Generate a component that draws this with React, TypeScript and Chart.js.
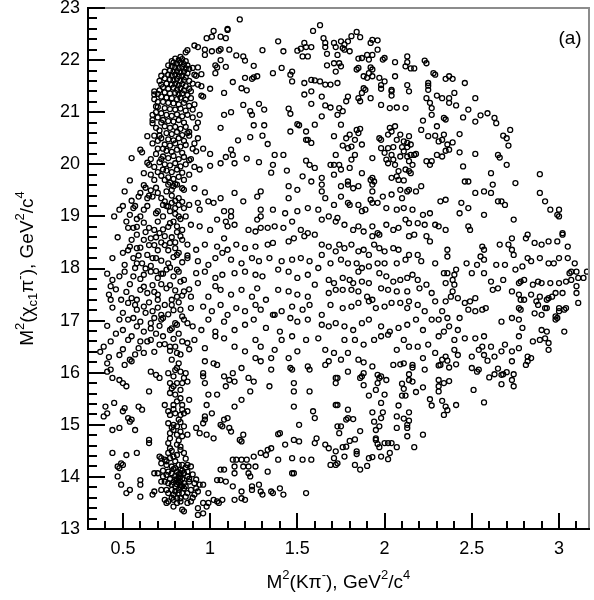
import React, { useRef, useEffect } from 'react';
import Chart from 'chart.js/auto';

type Pt = [number, number];

// M^2(K pi-) on x, M^2(chi_c1 pi-) on y, both GeV^2/c^4
const bandUpper: Pt[] = [
  [0.8,22.03],[0.82,22.0],[0.84,22.02],[0.86,21.98],[0.79,21.95],[0.81,21.93],[0.83,21.95],[0.85,21.92],[0.87,21.9],[0.78,21.88],
  [0.8,21.86],[0.82,21.85],[0.84,21.87],[0.86,21.84],[0.88,21.83],[0.77,21.8],[0.79,21.78],[0.81,21.79],[0.83,21.76],[0.85,21.78],
  [0.87,21.75],[0.76,21.72],[0.78,21.7],[0.8,21.72],[0.82,21.69],[0.84,21.7],[0.86,21.67],[0.74,21.65],[0.77,21.63],[0.79,21.61],
  [0.81,21.64],[0.83,21.6],[0.85,21.62],[0.88,21.6],[0.75,21.55],[0.78,21.53],[0.8,21.55],[0.82,21.52],[0.84,21.54],[0.86,21.5],
  [0.9,21.55],[0.73,21.48],[0.76,21.45],[0.79,21.47],[0.81,21.43],[0.83,21.46],[0.85,21.42],[0.88,21.45],[0.74,21.38],[0.77,21.36],
  [0.8,21.37],[0.82,21.34],[0.84,21.36],[0.87,21.33],[0.72,21.3],[0.75,21.28],[0.78,21.27],[0.81,21.25],[0.83,21.28],[0.86,21.24],
  [0.89,21.27],[0.73,21.2],[0.76,21.18],[0.79,21.17],[0.82,21.15],[0.85,21.18],[0.88,21.12],[0.74,21.08],[0.77,21.06],[0.8,21.05],
  [0.83,21.07],[0.86,21.03],[0.9,21.05],[0.72,20.98],[0.75,20.95],[0.78,20.93],[0.81,20.96],[0.84,20.92],[0.87,20.95],[0.73,20.85],
  [0.76,20.83],[0.79,20.82],[0.82,20.85],[0.85,20.8],[0.74,20.73],[0.77,20.7],[0.8,20.72],[0.83,20.68],[0.86,20.72],[0.75,20.6],
  [0.78,20.58],[0.81,20.62],[0.84,20.56],[0.87,20.6],[0.72,20.5],[0.76,20.48],[0.79,20.46],[0.82,20.5],[0.85,20.45],[0.74,20.38],
  [0.77,20.36],[0.8,20.4],[0.83,20.34],[0.86,20.37],[0.7,20.3],[0.75,20.26],[0.78,20.24],[0.81,20.28],[0.84,20.22],[0.73,20.15],
  [0.76,20.12],[0.79,20.16],[0.82,20.1],[0.85,20.14],[0.88,20.08],[0.71,20.04],[0.74,20.0],[0.77,19.98],[0.8,20.02],[0.83,19.96],
  [0.86,20.0],[0.75,19.88],[0.78,19.85],[0.81,19.9],[0.84,19.84],[0.72,19.78],[0.76,19.75],[0.79,19.72],[0.82,19.76],[0.85,19.7],
  [0.77,19.65],[0.8,19.62],
  [0.68,21.25],[0.7,21.2],[0.69,21.0],[0.7,20.9],[0.67,20.85],[0.69,20.7],[0.71,20.65],[0.68,20.55],[0.7,20.45],[0.67,20.4],
  [0.69,20.2],[0.66,20.1],[0.68,19.95],[0.7,19.85],[0.66,19.8],[0.68,19.7],
  [0.9,21.85],[0.92,21.7],[0.89,21.4],[0.91,21.15],[0.9,20.9],[0.92,20.7],[0.88,20.55],[0.9,20.3],[0.89,20.1],[0.91,19.95],
  [0.88,19.8],[0.95,21.5],[0.94,20.95],[0.96,20.3],[0.94,19.9],
  [0.83,22.06],[0.78,21.98],[0.76,21.9],[0.74,21.78],[0.72,21.7],[0.71,21.42],[0.7,21.35],[0.7,21.1],[0.72,20.8],[0.71,20.55],
  [0.73,20.3],[0.72,20.1],[0.73,19.9],[0.74,19.7],
];

const upperLeft: Pt[] = [
  [1.17,22.78],[1.1,22.6],[1.1,22.58],[1.02,22.56],[1.01,22.45],[0.98,22.42],[1.06,22.45],[1.09,22.42],[0.91,22.28],[0.93,22.25],
  [0.86,22.15],[0.87,22.19],[0.97,22.2],[0.97,22.1],[1.01,22.17],[1.05,22.18],[1.06,22.21],[1.11,22.2],[1.06,22.0],[1.03,21.9],
  [1.04,21.86],[1.03,21.75],[1.09,21.87],[1.13,21.58],[1.08,21.37],[1.08,20.95],[1.12,21.0],[1.06,20.7],[1.0,21.45],[0.95,21.32],
  [0.96,21.3],[0.93,21.53],[0.91,21.72],[0.95,21.73],[0.93,21.86],[0.93,20.8],[0.88,20.62],[0.93,20.5],[0.91,20.4],[0.92,20.25],
  [1.0,20.2],[1.0,19.97],[1.06,20.02],[1.09,20.14],[1.12,20.28],[1.13,20.18],[1.14,20.02],[0.55,20.12],[0.6,20.28],[0.61,20.23],
  [0.64,20.54],[0.54,19.69],[0.62,19.83],[0.64,20.03],[0.65,19.99],[0.68,21.4],[0.68,21.34],[0.71,21.6],[0.72,21.53],[0.69,21.11],
  [0.67,20.95],[0.67,20.79],
  [1.15,22.09],[1.19,22.07],[1.2,21.99],[1.25,21.89],[1.3,22.19],[1.39,22.36],[1.42,22.17],[1.41,21.85],[1.36,21.75],[1.47,21.78],
  [1.46,21.72],[1.47,21.59],[1.2,21.66],[1.24,21.64],[1.25,21.67],[1.27,21.69],[1.18,21.46],[1.21,21.42],[1.19,21.14],[1.23,21.02],
  [1.24,20.95],[1.28,21.16],[1.31,21.05],[1.25,20.75],[1.31,20.75],[1.23,20.52],[1.3,20.55],[1.33,20.39],[1.16,20.46],[1.21,20.11],
  [1.28,20.04],[1.37,20.18],[1.42,20.18],[1.36,19.99],[1.35,19.84],[1.44,19.88],[1.45,21.07],[1.46,20.97],[1.5,20.77],[1.51,20.75],
  [1.46,20.63],[1.55,20.63],[1.56,20.47],[1.58,20.41],[1.6,20.76],[1.5,22.18],[1.52,22.22],[1.54,22.33],[1.55,22.25],[1.56,22.07],
  [1.53,22.07],[1.58,22.25],[1.59,22.56],[1.63,22.67],[1.65,22.42],[1.66,22.33],[1.66,22.25],[1.67,22.12],[1.71,22.33],[1.72,22.25],
  [1.73,22.1],[1.71,21.94],[1.72,21.78],[1.67,21.9],[1.54,21.56],[1.58,21.4],[1.54,21.34],[1.6,21.61],[1.58,21.62],[1.63,21.59],
  [1.66,21.53],[1.69,21.53],[1.64,21.3],[1.58,21.16],[1.66,21.13],[1.69,21.09],[1.64,20.92],[1.71,20.54],[1.55,20.47],[1.55,20.07],
  [1.57,19.99],[1.6,19.93],[1.53,19.77],[1.58,19.67],[1.64,19.74],[1.69,19.99],[1.71,19.99],[1.71,19.8],[1.72,20.18],
];

const upperRight: Pt[] = [
  [1.84,22.54],[1.86,22.44],[1.81,22.46],[1.79,22.36],[1.77,22.3],[1.76,22.23],[1.75,22.36],[1.93,22.39],[1.92,22.33],[1.96,22.38],
  [1.96,22.2],[1.93,22.1],[1.9,22.1],[1.91,22.01],[1.87,22.04],[1.85,22.03],[1.8,22.17],[1.77,22.2],[2.0,22.04],[1.99,22.01],
  [2.06,21.96],[2.13,22.07],[2.13,21.96],[2.12,21.88],[2.15,21.84],[2.17,21.84],[2.23,21.99],[2.24,21.94],[1.74,21.94],[1.75,21.88],
  [1.73,21.56],[1.84,21.82],[1.85,21.85],[1.92,21.86],[1.93,21.82],[1.91,21.75],[1.93,21.69],[1.9,21.66],[1.88,21.69],[1.97,21.66],
  [2.0,21.59],[1.98,21.52],[1.98,21.45],[2.06,21.69],[1.88,21.46],[1.89,21.43],[1.87,21.37],[1.85,21.27],[1.86,21.21],[1.79,21.3],
  [1.78,21.21],[1.92,21.27],[1.98,21.14],[2.03,21.08],[2.07,21.09],[2.12,21.08],[2.04,21.32],[2.04,21.4],[2.04,21.43],[2.13,21.52],
  [2.14,21.4],[1.74,21.08],[1.76,21.02],[1.73,20.95],[1.75,20.76],[1.78,20.5],[1.8,20.57],[1.83,20.47],[1.84,20.66],[1.85,20.6],
  [1.86,20.68],[1.76,20.36],[1.79,20.31],[1.81,20.34],[1.87,20.38],[1.83,20.18],[1.81,20.09],[1.74,19.99],[1.75,19.9],[1.8,19.93],
  [1.87,19.83],[1.79,19.67],[1.92,19.7],[1.93,19.74],[1.94,19.67],
  [2.25,21.56],[2.25,21.51],[2.25,21.43],[2.24,21.27],[2.26,21.18],[2.27,21.08],[2.27,20.95],[2.3,21.32],[2.33,21.27],[2.37,21.27],
  [2.37,21.18],[2.41,21.13],[2.4,21.37],[2.29,21.72],[2.28,21.75],[2.35,21.64],[2.37,21.69],[2.39,21.64],[2.46,21.56],[2.52,21.27],
  [2.48,21.05],[2.45,20.9],[2.52,20.82],[2.55,20.94],[2.59,20.98],[2.63,20.89],[2.64,20.79],[2.68,20.55],[2.72,20.66],[2.7,20.5],
  [2.71,20.36],[2.65,20.18],[2.66,20.13],[2.7,19.99],[2.61,19.83],[2.89,19.81],
  [2.22,20.84],[2.21,20.66],[2.25,20.54],[2.3,20.73],[2.29,20.55],[2.34,20.89],[2.35,20.86],[2.34,20.57],[2.33,20.47],[2.31,20.44],
  [2.36,20.38],[2.35,20.26],[2.37,20.28],[2.39,20.42],[2.43,20.58],[2.3,20.18],[2.33,20.15],[2.27,20.06],[2.24,20.06],[2.26,19.99],
  [2.43,20.23],[2.52,20.2],[2.45,19.96],[2.48,19.67],[2.46,19.67],
  [2.03,20.7],[2.06,20.73],[2.04,20.63],[2.02,20.57],[2.09,20.57],[2.14,20.54],[2.07,20.47],[2.11,20.44],[2.13,20.41],[2.15,20.38],
  [2.13,20.33],[2.1,20.33],[2.05,20.33],[2.02,20.31],[2.0,20.22],[2.04,20.18],[2.05,20.09],[2.01,20.09],[2.02,20.02],[2.06,19.99],
  [2.09,20.15],[2.11,20.25],[2.13,20.15],[2.15,20.18],[2.17,20.18],[2.18,20.2],[2.14,20.06],[2.16,19.99],[2.12,19.9],[2.14,19.87],
  [2.15,19.83],[2.08,19.87],[2.07,19.77],[2.04,19.74],[2.08,19.7],[2.11,19.69],[1.98,20.47],[1.97,20.5],[1.98,20.31],[1.93,20.12],
];

const middleLeft: Pt[] = [
  [0.76,19.61],[0.79,19.58],[0.81,19.61],[0.84,19.54],[0.85,19.51],[0.78,19.51],[0.75,19.48],[0.91,19.54],[0.97,19.46],[1.06,19.35],
  [1.14,19.45],[1.19,19.29],[1.27,19.38],[1.29,19.48],[1.45,19.58],[1.5,19.51],[1.64,19.61],[1.64,19.48],[1.66,19.35],[1.45,19.35],
  [0.59,19.38],[0.64,19.35],[0.67,19.38],[0.51,19.48],[0.74,19.29],[0.78,19.26],[0.82,19.22],
  [0.48,19.13],[0.54,19.03],[0.56,19.16],[0.6,19.0],[0.62,19.13],[0.69,19.06],[0.73,19.22],[0.76,19.19],[0.8,19.16],[0.82,19.0],
  [0.85,19.16],[0.88,19.22],[0.93,19.26],[0.94,19.13],[0.99,19.29],[1.02,19.26],[1.08,19.1],[1.12,19.1],[1.12,19.0],[1.29,19.13],
  [1.29,19.0],[1.36,19.13],[1.43,19.06],[1.5,19.1],[1.56,19.16],[1.62,19.13],[1.68,19.0],[1.71,19.22],
  [0.53,18.78],[0.56,18.78],[0.65,18.78],[0.68,18.74],[0.77,18.87],[0.81,18.81],[0.84,18.74],[0.89,18.84],[0.94,18.81],[1.0,18.74],
  [1.04,18.94],[1.09,18.9],[1.1,18.81],[1.14,18.84],[1.27,18.94],[1.29,18.78],[1.33,18.78],[1.37,18.81],[1.42,18.78],[1.47,18.9],
  [1.52,18.74],[1.56,18.68],[1.64,18.94],[1.72,18.9],[0.74,18.62],[1.22,18.74],[1.26,18.71],
  [0.54,18.42],[0.58,18.65],[0.62,18.55],[0.66,18.58],[0.71,18.68],[0.77,18.49],[0.8,18.39],[0.83,18.62],[0.87,18.46],[0.92,18.36],
  [0.97,18.46],[1.04,18.42],[1.08,18.58],[1.1,18.36],[1.15,18.46],[1.2,18.39],[1.26,18.42],[1.33,18.46],[1.36,18.49],[1.45,18.52],
  [1.48,18.58],[1.54,18.62],[1.6,18.65],[1.64,18.46],[1.68,18.42],[0.5,18.3],[0.58,18.39],
  [0.51,18.07],[0.56,18.2],[0.61,18.1],[0.64,18.26],[0.69,18.2],[0.76,18.1],[0.81,18.26],[0.87,18.2],[0.93,18.14],[0.99,18.07],
  [1.03,18.2],[1.07,18.3],[1.12,18.17],[1.18,18.1],[1.24,18.2],[1.28,18.14],[1.34,18.2],[1.41,18.14],[1.47,18.17],[1.52,18.2],
  [1.57,18.14],[1.64,18.26],[1.69,18.1],[1.72,18.33],
  [0.44,17.78],[0.51,17.94],[0.57,18.01],[0.62,17.88],[0.66,17.94],[0.7,17.82],[0.75,17.98],[0.82,17.94],[0.85,17.78],[0.92,17.91],
  [0.97,17.94],[1.03,17.82],[1.07,17.88],[1.14,17.91],[1.2,17.94],[1.26,17.88],[1.3,17.85],[1.39,17.98],[1.45,17.94],[1.5,17.82],
  [1.56,17.88],[1.62,18.01],[1.68,17.78],[1.71,17.72],
  [0.43,17.66],[0.43,17.4],[0.49,17.4],[0.55,17.43],[0.6,17.59],[0.64,17.53],[0.7,17.5],[0.75,17.62],[0.81,17.46],[0.85,17.56],
  [0.89,17.46],[0.93,17.72],[0.99,17.46],[1.03,17.66],[1.06,17.59],[1.12,17.5],[1.18,17.59],[1.24,17.46],[1.27,17.62],[1.32,17.4],
  [1.39,17.59],[1.45,17.56],[1.5,17.5],[1.56,17.46],[1.6,17.69],[1.68,17.53],[1.72,17.59],
  [0.48,17.02],[0.53,17.34],[0.58,17.21],[0.62,17.27],[0.67,17.18],[0.72,17.11],[0.78,17.3],[0.83,17.21],[0.89,17.24],[0.96,17.27],
  [1.01,17.18],[1.06,17.3],[1.1,17.11],[1.15,17.24],[1.2,17.18],[1.26,17.3],[1.29,17.21],[1.36,17.11],[1.41,17.18],[1.47,17.27],
  [1.53,17.21],[1.57,17.3],[1.64,17.11],[1.69,17.3],
  [0.5,16.82],[0.53,17.02],[0.58,16.89],[0.62,16.79],[0.66,16.95],[0.72,17.02],[0.77,16.82],[0.81,16.92],[0.85,17.02],[0.9,16.89],
  [0.95,16.82],[0.99,17.02],[1.03,16.79],[1.08,16.98],[1.14,16.82],[1.2,16.92],[1.25,17.02],[1.32,16.86],[1.37,17.11],[1.4,16.79],
  [1.46,17.05],[1.5,16.98],[1.56,17.02],[1.64,16.92],[1.68,16.89],[1.72,16.95],
  [0.39,16.5],[0.43,16.6],[0.48,16.34],[0.53,16.63],[0.59,16.47],[0.62,16.38],[0.66,16.63],[0.71,16.54],[0.77,16.5],[0.81,16.38],
  [0.87,16.57],[0.91,16.63],[0.97,16.47],[1.03,16.7],[1.08,16.66],[1.14,16.5],[1.2,16.41],[1.26,16.63],[1.29,16.5],[1.37,16.44],
  [1.41,16.63],[1.47,16.7],[1.5,16.41],[1.55,16.63],[1.62,16.66],[1.66,16.44],[1.71,16.38],
  [0.78,19.4],[0.82,19.35],[0.8,19.3],[0.84,19.28],[0.77,19.1],[0.8,19.05],[0.83,18.95],[0.79,18.9],[0.76,18.8],[0.81,18.7],
  [0.78,18.6],[0.84,18.55],[0.8,18.5],[0.76,18.35],[0.82,18.3],[0.79,18.22],[0.84,18.12],[0.77,18.02],[0.81,17.98],[0.79,17.85],
  [0.83,17.75],[0.77,17.68],[0.8,17.58],[0.84,17.48],[0.78,17.4],[0.82,17.35],[0.79,17.2],[0.76,17.12],[0.84,17.08],[0.8,16.95],
  [0.78,16.85],[0.82,16.75],[0.79,16.65],[0.84,16.6],[0.8,16.5],[0.77,16.42],[0.83,16.35],[0.75,19.2],[0.86,19.0],[0.74,18.45],
  [0.87,18.25],[0.73,17.9],[0.88,17.6],[0.74,17.3],[0.87,16.95],[0.73,16.7],[0.88,16.45],
  [0.45,19.0],[0.5,19.2],[0.55,19.3],[0.6,19.45],[0.63,19.55],[0.66,19.5],[0.7,19.45],[0.52,18.9],[0.58,18.95],[0.62,18.88],
  [0.7,18.9],[0.47,18.6],[0.55,18.55],[0.6,18.4],[0.68,18.45],[0.72,18.5],[0.44,18.2],[0.53,18.35],[0.58,18.1],[0.66,18.05],
  [0.7,18.35],[0.41,17.9],[0.48,17.85],[0.54,17.7],[0.6,17.8],[0.67,17.68],[0.72,17.9],[0.42,17.5],[0.46,17.6],[0.52,17.55],
  [0.58,17.4],[0.65,17.35],[0.7,17.25],[0.44,17.25],[0.5,17.15],[0.56,17.05],[0.6,16.98],[0.68,17.05],[0.41,16.9],[0.46,16.75],
  [0.55,16.7],[0.64,16.6],[0.69,16.75],[0.37,16.4],[0.42,16.3],[0.5,16.45],[0.57,16.35],[0.68,16.4],
  [0.62,19.6],[0.65,19.4],[0.69,19.55],[0.72,19.35],[0.57,19.2],[0.64,19.2],[0.7,19.1],[0.73,19.0],[0.58,18.8],[0.63,18.7],
  [0.69,18.6],[0.73,18.75],[0.65,18.45],[0.59,18.25],[0.67,18.2],[0.72,18.15],[0.63,18.0],[0.69,17.95],[0.56,17.85],[0.62,17.65],
  [0.68,17.55],[0.72,17.7],[0.57,17.3],[0.63,17.15],[0.7,17.4],[0.73,17.05],[0.66,16.85],[0.71,16.9],[0.6,16.6],[0.74,16.55],
];

const middleRight: Pt[] = [
  [1.75,19.58],[1.79,19.61],[1.82,19.54],[1.85,19.58],[1.93,19.61],[1.93,19.48],[1.99,19.38],[2.04,19.42],[2.09,19.51],[2.1,19.35],
  [2.13,19.48],[2.14,19.51],[2.18,19.48],[2.21,19.58],[1.75,19.38],[1.79,19.26],[1.8,19.22],[1.85,19.22],[1.87,19.1],[1.89,19.13],
  [1.92,19.32],[1.93,19.26],[1.96,19.26],[2.01,19.16],[2.07,19.13],[2.11,19.16],[2.16,19.13],[2.22,19.03],[2.26,19.06],[2.32,19.29],
  [2.35,19.32],[1.73,18.97],[1.77,18.84],[1.82,18.74],[1.85,18.81],[1.88,18.71],[1.93,18.81],[1.93,18.62],[1.96,18.68],[1.97,18.65],
  [2.01,18.84],[2.05,18.74],[2.08,18.78],[2.12,18.94],[2.14,18.87],[2.19,18.87],[2.23,18.84],[2.29,18.84],[2.31,18.81],[2.35,18.74],
  [1.74,18.46],[1.77,18.39],[1.81,18.46],[1.85,18.33],[1.88,18.36],[1.91,18.26],[1.94,18.46],[1.97,18.39],[2.0,18.33],[2.05,18.39],
  [2.08,18.36],[2.14,18.62],[2.17,18.65],[2.24,18.62],[2.26,18.52],[1.75,18.17],[1.79,18.1],[1.84,18.1],[1.87,18.01],[1.85,17.94],
  [1.91,18.04],[1.96,18.1],[2.0,18.1],[2.07,18.1],[2.12,18.17],[2.14,18.26],[2.19,18.26],[2.21,18.14],[2.29,18.1],[1.76,17.82],
  [1.8,17.78],[1.82,17.72],[1.87,17.75],[1.91,17.72],[1.97,17.91],[2.01,17.85],[2.05,17.75],[2.09,17.78],[2.13,17.82],[2.16,17.88],
  [2.19,17.78],[1.76,17.59],[1.81,17.59],[1.85,17.56],[1.9,17.46],[1.93,17.4],[1.98,17.62],[2.02,17.59],[2.07,17.56],[2.13,17.56],
  [2.14,17.37],[2.2,17.62],[2.24,17.69],[2.27,17.53],[1.76,17.24],[1.81,17.27],[1.85,17.34],[1.91,17.37],[1.95,17.24],[2.0,17.27],
  [2.04,17.34],[2.09,17.34],[2.13,17.24],[2.19,17.3],[2.23,17.18],[1.77,16.89],[1.82,16.82],[1.87,16.95],[1.91,17.02],[1.98,16.89],
  [2.03,16.79],[2.08,16.86],[2.13,16.92],[2.18,17.02],[2.22,16.82],[2.27,17.02],[1.77,16.63],[1.83,16.63],[1.88,16.54],[1.94,16.63],
  [1.98,16.7],[2.02,16.73],[2.07,16.44],[2.11,16.63],[2.14,16.5],[2.19,16.5],[2.25,16.54],[2.29,16.38],[2.35,16.31],[2.4,16.44],
  [1.79,16.38],
  [2.36,18.36],[2.36,18.23],[2.47,18.1],[2.5,17.91],[2.34,17.91],[2.36,17.91],[2.41,17.98],[2.4,17.88],[2.39,17.78],[2.35,17.72],
  [2.4,17.69],[2.39,17.56],[2.42,17.43],[2.38,17.46],[2.35,17.37],[2.33,17.18],[2.36,17.05],[2.31,17.02],[2.29,17.37],[2.46,17.34],
  [2.49,17.37],[2.48,17.21],[2.52,17.18],[2.56,17.21],[2.58,17.24],[2.52,17.43],[2.43,17.05],[2.42,16.82],[2.37,16.89],[2.34,16.79],
  [2.31,16.7],[2.4,16.63],[2.46,16.66],[2.52,16.66],[2.57,16.7],[2.61,16.5],[2.56,16.5],[2.54,16.44],[2.5,16.31],[2.42,16.34],
  [2.57,16.34],[2.63,16.31],[2.67,16.41],[2.69,16.54],[2.73,16.41],[2.77,16.47],[2.82,16.31],[2.67,16.98],[2.73,17.05],[2.77,17.02],
  [2.79,16.86],[2.77,16.7],[2.85,16.6],[2.89,16.63],[2.92,16.66],[2.9,16.82],[2.93,16.79],[2.94,16.57],[2.94,16.44],[3.03,16.79],
  [2.98,17.02],[3.0,17.18],[3.04,17.24],[2.99,17.05],
  [2.43,19.06],[2.44,19.26],[2.48,19.16],[2.52,19.45],[2.57,19.48],[2.61,19.45],[2.62,19.61],[2.67,19.29],[2.69,19.22],[2.65,19.29],
  [2.75,19.64],[2.57,19.03],[2.74,18.94],[2.48,18.81],[2.49,18.74],[2.89,19.45],[2.92,19.29],[2.95,19.13],[2.99,19.03],[3.0,19.13],
  [3.0,19.0],[3.02,18.68],[3.02,18.65],[2.73,18.58],[2.71,18.46],[2.66,18.46],[2.73,18.36],[2.74,18.26],[2.81,18.58],[2.82,18.65],
  [2.86,18.49],[2.9,18.46],[2.94,18.52],[2.99,18.52],[3.05,18.42],[2.56,18.42],[2.57,18.36],[2.55,18.23],[2.57,18.17],[2.53,18.07],
  [2.64,18.07],[2.69,18.07],[2.57,17.91],[2.61,17.75],[2.62,17.59],[2.65,17.62],[2.68,17.78],[2.75,17.98],[2.79,18.04],[2.84,18.14],
  [2.89,18.2],[2.82,18.2],[2.94,18.1],[2.97,18.1],[3.0,18.2],[3.05,18.2],[3.09,18.1],[3.07,17.94],[3.1,17.94],[3.16,17.94],
  [3.06,17.91],[3.07,17.78],[3.11,17.82],[3.14,17.82],[2.77,17.72],[2.78,17.75],[2.8,17.78],[2.85,17.69],[2.88,17.75],[2.9,17.72],
  [2.95,17.72],[3.0,17.72],[3.04,17.75],[2.73,17.56],[2.77,17.5],[2.78,17.4],[2.8,17.4],[2.84,17.5],[2.89,17.46],[2.93,17.4],
  [2.96,17.46],[2.98,17.53],[3.02,17.53],[3.1,17.66],[3.1,17.53],[3.11,17.34],[2.87,17.37],[2.88,17.3],[2.94,17.43],[2.77,17.24],
  [2.78,17.21],[2.86,17.14],[2.92,17.24],[2.93,17.24],[3.0,17.24],[3.03,17.21],[2.98,17.08],[2.9,17.11],
];

const lowerLeft: Pt[] = [
  [0.41,16.18],[0.43,16.06],[0.41,16.02],[0.44,15.9],[0.48,15.86],[0.5,15.8],[0.52,15.74],[0.51,16.15],[0.55,16.22],[0.54,16.25],
  [0.66,16.02],[0.69,15.96],[0.71,15.9],[0.65,15.64],[0.39,15.16],[0.4,15.35],[0.41,15.22],[0.45,15.42],[0.44,14.9],[0.48,14.94],
  [0.51,15.32],[0.5,15.26],[0.53,15.13],[0.54,15.06],[0.55,15.1],[0.59,15.35],[0.61,15.29],[0.57,14.9],[0.44,14.46],[0.52,14.42],
  [0.58,14.46],[0.48,14.17],[0.47,14.2],[0.5,14.23],[0.49,14.26],[0.47,14.01],[0.49,13.85],[0.52,13.69],[0.54,13.75],[0.6,13.94],
  [0.6,13.85],[0.6,13.62],[0.65,14.71],[0.65,14.65],[0.68,14.07],[0.7,14.07],[0.67,13.66],[0.68,13.72],
  [0.97,16.22],[1.02,16.18],[0.96,15.99],[0.96,15.93],[0.97,15.8],[1.04,16.15],[1.08,15.93],[1.11,15.86],[1.14,15.83],[1.13,15.99],
  [1.18,16.09],[1.22,15.9],[1.25,15.83],[1.09,15.74],[1.04,15.58],[0.99,15.58],[0.98,15.38],[1.01,15.22],[0.97,15.16],[0.97,15.1],
  [0.96,15.03],[0.92,14.94],[0.94,14.84],[0.98,14.81],[1.02,14.74],[1.06,15.0],[1.07,14.97],[1.08,15.1],[1.1,15.13],[1.11,14.94],
  [1.12,14.87],[1.14,15.35],[1.18,15.48],[1.17,14.71],[1.18,14.68],[1.19,14.81],[1.23,15.64],[1.26,16.28],[1.29,16.22],[1.35,16.28],
  [1.35,16.06],[1.34,15.74],[1.45,16.28],[1.46,16.09],[1.47,16.06],[1.48,15.8],[1.48,15.64],[1.48,15.35],[1.56,16.12],[1.57,16.06],
  [1.57,15.64],[1.59,15.26],[1.6,15.13],[1.66,16.15],[1.68,16.22],[1.72,15.9],[1.72,15.8],[1.51,15.0],[1.48,14.71],[1.51,14.68],
  [1.61,14.74],[1.6,14.65],[1.66,14.62],[1.68,14.55],[1.72,14.49],[1.73,14.97],[1.72,15.38],[1.71,14.36],[1.72,14.23],[1.69,14.23],
  [1.47,14.36],[1.53,14.33],[1.58,14.33],[1.48,14.07],[1.47,14.07],[1.39,14.82],[1.4,14.84],[1.43,14.62],[1.35,14.55],[1.33,14.52],
  [1.29,14.46],[1.32,14.42],[1.39,14.33],[1.25,14.39],[1.21,14.33],[1.15,14.33],[1.18,14.33],[1.13,14.33],[1.14,14.2],[1.19,14.2],
  [1.22,14.2],[1.26,14.2],[1.22,14.07],[1.23,14.01],[1.14,14.07],[1.08,14.14],[1.06,14.14],[1.04,13.94],[1.06,13.94],[1.09,13.91],
  [1.13,13.82],[1.18,13.72],[1.2,13.56],[1.24,13.82],[1.24,13.75],[1.28,13.85],[1.29,13.72],[1.3,13.66],[1.35,13.72],[1.36,13.69],
  [1.4,13.78],[1.42,13.66],[1.33,14.1],[1.14,13.56],[1.18,13.59],[1.07,13.56],[1.04,13.53],[1.02,13.56],[1.05,13.5],[0.99,13.5],
  [0.99,13.69],[0.96,13.5],[0.98,13.43],[0.93,13.4],[0.93,13.27],[0.96,13.3],[1.55,13.69],[0.96,13.85],
];

const bandLower: Pt[] = [
  [0.78,16.25],[0.81,16.09],[0.82,16.18],[0.76,15.99],[0.79,15.93],[0.83,16.02],[0.86,15.99],[0.87,15.83],[0.81,15.8],[0.84,15.8],
  [0.77,15.8],[0.79,15.74],[0.83,15.67],[0.77,15.61],[0.8,15.58],[0.83,15.51],[0.88,15.48],[0.84,15.38],[0.79,15.38],[0.74,15.38],
  [0.76,15.26],[0.8,15.22],[0.77,15.19],[0.82,15.1],[0.84,15.29],[0.85,15.22],[0.83,15.19],[0.87,15.26],[0.76,15.03],[0.79,15.0],
  [0.81,14.97],[0.79,14.9],[0.83,14.87],[0.77,14.84],[0.81,14.81],[0.85,14.97],[0.87,14.81],[0.84,14.78],[0.77,14.74],[0.76,14.65],
  [0.81,14.62],[0.83,14.58],[0.77,14.55],[0.76,14.46],[0.83,14.52],[0.85,14.46],[0.71,14.39],[0.72,14.36],[0.74,14.33],[0.77,14.36],
  [0.79,14.39],[0.81,14.42],[0.82,14.23],[0.84,14.23],[0.87,14.23],[0.89,14.2],[0.72,14.26],[0.75,14.23],[0.78,14.2],[0.8,14.17],
  [0.83,14.14],[0.81,14.1],[0.83,14.07],[0.85,14.07],[0.87,14.1],[0.78,14.07],[0.75,14.04],[0.73,14.01],[0.83,14.01],[0.82,13.98],
  [0.81,13.94],[0.83,13.91],[0.87,14.01],[0.88,13.91],[0.91,13.88],[0.74,13.91],[0.72,13.91],[0.76,13.88],[0.78,13.85],[0.8,13.82],
  [0.83,13.85],[0.84,13.82],[0.86,13.82],[0.85,13.78],[0.82,13.75],[0.78,13.75],[0.75,13.75],[0.72,13.75],[0.76,13.69],[0.79,13.66],
  [0.82,13.69],[0.84,13.69],[0.87,13.69],[0.89,13.75],[0.92,13.78],[0.93,13.72],[0.94,13.85],[0.91,13.66],[0.74,13.56],[0.76,13.53],
  [0.79,13.56],[0.81,13.5],[0.83,13.53],[0.87,13.5],[0.89,13.53],[0.84,13.37],[0.85,13.34],[0.79,13.43],[0.75,13.5],[0.83,13.59],
  [0.81,13.59],
  [0.8,13.95],[0.82,13.9],[0.84,13.96],[0.81,13.86],[0.83,13.8],[0.79,13.9],[0.85,13.88],[0.8,14.02],[0.82,14.05],[0.84,14.12],
  [0.79,14.15],[0.86,14.18],[0.77,13.96],[0.88,13.96],[0.76,14.1],[0.8,13.72],[0.86,13.62],[0.78,13.6],[0.9,13.6],[0.92,13.95],
  [0.9,14.05],[0.73,14.12],[0.75,14.3],[0.8,14.3],[0.86,14.35],[0.78,14.5],[0.82,14.7],[0.78,14.95],[0.83,15.05],[0.79,15.3],
  [0.81,15.45],[0.78,15.7],[0.85,15.9],[0.8,16.05],
];

const lowerRight: Pt[] = [
  [1.75,16.25],[1.85,16.25],[1.88,16.2],[1.93,16.12],[2.05,16.15],[2.09,16.16],[2.11,16.18],[2.16,16.15],[2.16,16.1],[2.22,16.28],
  [2.31,16.14],[2.33,16.25],[2.36,16.23],[2.37,16.1],[2.32,16.15],[2.41,16.16],[2.5,16.09],[2.53,16.02],[2.54,16.06],[2.59,16.23],
  [2.6,15.91],[2.63,15.97],[2.65,16.08],[2.67,15.96],[2.68,15.97],[2.7,16.01],[2.73,16.22],[2.73,15.86],[2.74,15.97],[2.74,15.74],
  [2.67,15.78],[2.51,15.67],[2.57,15.43],[2.81,16.15],[2.82,16.22],[2.84,16.28],[1.79,16.02],[1.88,15.99],[1.87,15.93],[1.86,15.9],
  [1.88,15.76],[1.95,15.67],[1.96,15.96],[1.97,15.9],[1.98,15.93],[2.01,15.86],[1.96,15.8],[2.0,15.58],[1.91,15.56],[2.1,15.79],
  [2.11,15.69],[2.1,15.56],[2.12,15.56],[2.14,15.97],[2.14,15.86],[2.16,15.83],[2.18,15.63],[2.22,15.72],[2.23,16.06],[2.31,15.86],
  [2.31,15.74],[2.31,15.64],[2.34,15.8],[2.37,15.84],[2.26,15.49],[2.27,15.37],[2.33,15.46],[2.35,15.35],[2.36,15.28],[2.34,15.19],
  [2.41,15.38],[1.73,15.9],[1.73,15.38],[1.79,15.29],[1.78,15.1],[1.82,15.11],[1.79,15.13],[1.75,14.97],[1.93,15.24],[1.98,15.42],
  [1.99,15.24],[1.98,15.13],[1.94,15.06],[1.97,14.97],[1.95,14.9],[2.08,15.37],[2.14,15.24],[2.07,15.16],[2.11,15.12],[2.14,15.08],
  [2.13,15.0],[2.13,14.94],[2.07,14.94],[2.13,14.78],[2.22,14.81],[2.17,14.57],[1.74,14.84],[1.8,14.69],[1.83,14.72],[1.76,14.57],
  [1.78,14.58],[1.77,14.39],[1.84,14.49],[1.84,14.44],[1.91,14.36],[1.93,14.38],[1.98,14.39],[2.03,14.46],[2.02,14.34],[1.86,14.88],
  [1.95,14.74],[1.95,14.71],[1.96,14.63],[1.97,14.57],[2.0,14.65],[2.02,14.65],[2.04,14.65],[2.07,14.57],[1.83,14.23],[1.86,14.14],
  [1.9,14.21],[1.73,14.26],
];

const allPoints = [...bandUpper, ...upperLeft, ...upperRight, ...middleLeft, ...middleRight, ...lowerLeft, ...bandLower, ...lowerRight];

const xRange = [0.3, 3.17];
const yRange = [13, 23];
const xMajorTicks = [0.5, 1, 1.5, 2, 2.5, 3];
const yMajorTicks = [13, 14, 15, 16, 17, 18, 19, 20, 21, 22, 23];
const fontFamily = '"Liberation Sans", Arial, Helvetica, sans-serif';

type Piece = { t: string; k: 'n' | 'sup' | 'sub' };

const xTitle: Piece[] = [
  { t: 'M', k: 'n' }, { t: '2', k: 'sup' }, { t: '(K\u03c0', k: 'n' }, { t: '-', k: 'sup' },
  { t: '), GeV', k: 'n' }, { t: '2', k: 'sup' }, { t: '/c', k: 'n' }, { t: '4', k: 'sup' },
];
const yTitle: Piece[] = [
  { t: 'M', k: 'n' }, { t: '2', k: 'sup' }, { t: '(\u03c7', k: 'n' }, { t: 'c1', k: 'sub' },
  { t: '\u03c0', k: 'n' }, { t: '-', k: 'sup' }, { t: '), GeV', k: 'n' }, { t: '2', k: 'sup' },
  { t: '/c', k: 'n' }, { t: '4', k: 'sup' },
];

function drawPieces(ctx: CanvasRenderingContext2D, pieces: Piece[], size: number) {
  const small = Math.round(size * 0.68);
  const fontFor = (p: Piece) => `${p.k === 'n' ? size : small}px ${fontFamily}`;
  let total = 0;
  pieces.forEach((p) => {
    ctx.font = fontFor(p);
    total += ctx.measureText(p.t).width;
  });
  let x = -total / 2;
  pieces.forEach((p) => {
    ctx.font = fontFor(p);
    const dy = p.k === 'sup' ? -size * 0.45 : p.k === 'sub' ? size * 0.22 : 0;
    ctx.fillText(p.t, x, dy);
    x += ctx.measureText(p.t).width;
  });
}

// ROOT-like frame: black axes with inward ticks, grey top/right
const rootFrame = {
  id: 'rootFrame',
  afterDraw(chart: any) {
    const ctx: CanvasRenderingContext2D = chart.ctx;
    const a = chart.chartArea;
    const L = Math.round(a.left);
    const B = Math.round(a.bottom);
    const T = Math.round(a.top);
    const R = Math.round(a.right);
    const xPix = (v: number) => a.left + ((v - xRange[0]) / (xRange[1] - xRange[0])) * (a.right - a.left);
    const yPix = (v: number) => a.bottom - ((v - yRange[0]) / (yRange[1] - yRange[0])) * (a.bottom - a.top);
    ctx.save();
    ctx.strokeStyle = '#8c8c8c';
    ctx.lineWidth = 2;
    ctx.beginPath();
    ctx.moveTo(L, T);
    ctx.lineTo(R, T);
    ctx.lineTo(R, B);
    ctx.stroke();

    ctx.strokeStyle = '#000000';
    ctx.lineWidth = 2;
    ctx.beginPath();
    ctx.moveTo(L, T - 1);
    ctx.lineTo(L, B);
    ctx.lineTo(R + 1, B);
    for (let i = 3; i <= 31; i++) {
      const px = Math.round(xPix(i / 10));
      const len = i % 5 === 0 ? 16 : 8;
      ctx.moveTo(px, B);
      ctx.lineTo(px, B - len);
    }
    for (let i = 65; i <= 115; i++) {
      const py = Math.round(yPix(i / 5));
      const len = i % 5 === 0 ? 17 : 9;
      ctx.moveTo(L, py);
      ctx.lineTo(L + len, py);
    }
    ctx.stroke();
    ctx.restore();
  },
};

const axisTitles = {
  id: 'axisTitles',
  afterDraw(chart: any) {
    const ctx: CanvasRenderingContext2D = chart.ctx;
    const a = chart.chartArea;
    ctx.save();
    ctx.fillStyle = '#000000';
    ctx.textBaseline = 'alphabetic';
    ctx.textAlign = 'left';
    ctx.save();
    ctx.translate((a.left + a.right) / 2, 588);
    drawPieces(ctx, xTitle, 19);
    ctx.restore();
    ctx.save();
    ctx.translate(33, (a.top + a.bottom) / 2);
    ctx.rotate(-Math.PI / 2);
    drawPieces(ctx, yTitle, 19);
    ctx.restore();
    ctx.font = `19px ${fontFamily}`;
    ctx.textAlign = 'right';
    ctx.fillText('(a)', a.right - 7, 44);
    ctx.restore();
  },
};

const DalitzPlot: React.FC = () => {
  const canvasRef = useRef<HTMLCanvasElement>(null);

  useEffect(() => {
    let chart: Chart | undefined;
    if (canvasRef.current) {
      chart = new Chart(canvasRef.current, {
        type: 'scatter',
        data: {
          datasets: [
            {
              label: 'events',
              data: allPoints.map(([x, y]) => ({ x, y })),
              pointRadius: 2.5,
              pointBorderWidth: 1.3,
              borderColor: '#000',
              backgroundColor: 'rgba(0,0,0,0)',
            },
          ],
        },
        options: {
          animation: false,
          responsive: true,
          maintainAspectRatio: false,
          layout: { padding: { top: 8, right: 5, left: 0, bottom: 0 } },
          plugins: { legend: { display: false }, tooltip: { enabled: false } },
          scales: {
            x: {
              type: 'linear',
              min: xRange[0],
              max: xRange[1],
              grid: { display: false, drawTicks: false },
              border: { display: false },
              afterBuildTicks: (s: any) => {
                s.ticks = xMajorTicks.map((v) => ({ value: v }));
              },
              afterFit: (s: any) => {
                s.height = 71;
                s.paddingLeft = 0;
                s.paddingRight = 0;
              },
              ticks: {
                autoSkip: false,
                maxRotation: 0,
                padding: 9,
                color: '#000',
                font: { family: fontFamily, size: 18 },
                callback: (v: any) => String(v),
              },
            },
            y: {
              type: 'linear',
              min: yRange[0],
              max: yRange[1],
              grid: { display: false, drawTicks: false },
              border: { display: false },
              afterBuildTicks: (s: any) => {
                s.ticks = yMajorTicks.map((v) => ({ value: v }));
              },
              afterFit: (s: any) => {
                s.width = 88;
                s.paddingTop = 0;
                s.paddingBottom = 0;
              },
              ticks: {
                autoSkip: false,
                padding: 8,
                color: '#000',
                font: { family: fontFamily, size: 18 },
                callback: (v: any) => String(v),
              },
            },
          },
        },
        plugins: [rootFrame, axisTitles],
      });
    }
    return () => {
      if (chart) {
        chart.destroy();
      }
    };
  }, []);

  return (
    <div style={{ position: 'absolute', left: 0, top: 0, width: 594, height: 600, background: '#fff' }}>
      <canvas ref={canvasRef}></canvas>
    </div>
  );
};

export default function App() {
  return <DalitzPlot />;
}
